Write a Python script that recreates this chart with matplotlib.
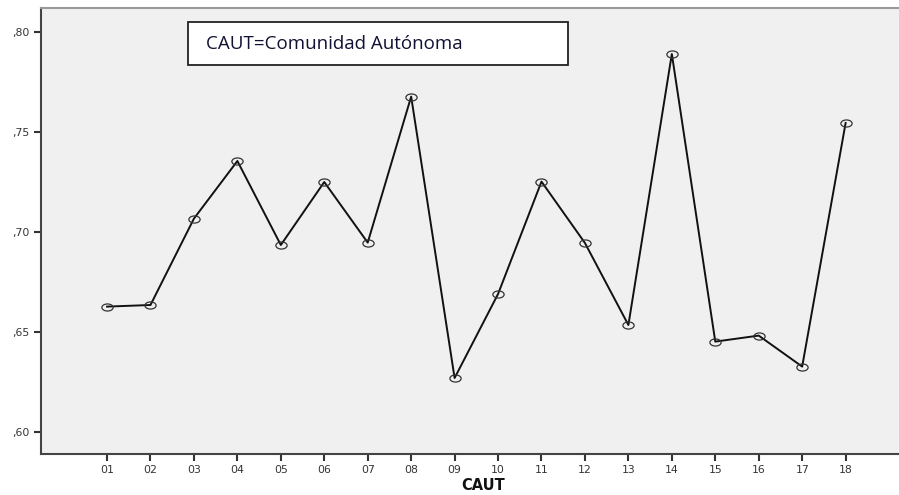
import matplotlib
matplotlib.use("Agg")
import matplotlib.pyplot as plt
from matplotlib.markers import MarkerStyle
from matplotlib.patches import Rectangle
from matplotlib.transforms import Affine2D

caut = ["01", "02", "03", "04", "05", "06", "07", "08", "09",
        "10", "11", "12", "13", "14", "15", "16", "17", "18"]
values = [0.6627, 0.6635, 0.7067, 0.7355, 0.6935, 0.7250, 0.6947, 0.7677, 0.6270,
          0.6690, 0.7252, 0.6945, 0.6535, 0.7890, 0.6452, 0.6482, 0.6327, 0.7545]
yticks = [0.60, 0.65, 0.70, 0.75, 0.80]
ytick_labels = [",60", ",65", ",70", ",75", ",80"]

fig = plt.figure(figsize=(8.99, 4.95), dpi=100)
ax = fig.add_axes([41 / 899, 41 / 495, 1 - 41 / 899 + 0.002, 446 / 495])
ax.set_facecolor("#f0f0f0")

# SPSS-style flattened open circles
oval = MarkerStyle("o", fillstyle="none", transform=Affine2D().scale(1.35, 0.85))
x = list(range(1, len(caut) + 1))
ax.plot(x, values, color="#111111", lw=1.4, marker=oval, ms=6,
        mec="#333333", mew=0.9)

ax.set_xlim(-0.52, 19.27)
ax.set_ylim(0.589, 0.812)
ax.set_xticks(x)
ax.set_xticklabels(caut)
ax.set_yticks(yticks)
ax.set_yticklabels(ytick_labels)
ax.tick_params(axis="both", direction="out", length=5, width=1.5,
               colors="#333333", labelsize=7.8, pad=3)

for side in ["left", "bottom"]:
    ax.spines[side].set_color("#444444")
    ax.spines[side].set_linewidth(1.5)
ax.spines["top"].set_color("#999999")
ax.spines["top"].set_linewidth(1.5)
ax.spines["right"].set_visible(False)

# annotation box (pixel-based placement)
fig.add_artist(Rectangle((188 / 899, (495 - 65) / 495), 380 / 899, 43 / 495,
                         transform=fig.transFigure, fc="white", ec="#222222", lw=1.3))
fig.text(206 / 899, (495 - 44) / 495, "CAUT=Comunidad Autónoma",
         fontsize=13.5, family=["Open Sans", "DejaVu Sans"],
         color="#111133", va="center", ha="left")

fig.text(483 / 899, 0.004, "CAUT", ha="center", va="bottom", fontsize=10.5,
         fontweight="bold", color="#111111")

fig.savefig("out.png", dpi=100)
